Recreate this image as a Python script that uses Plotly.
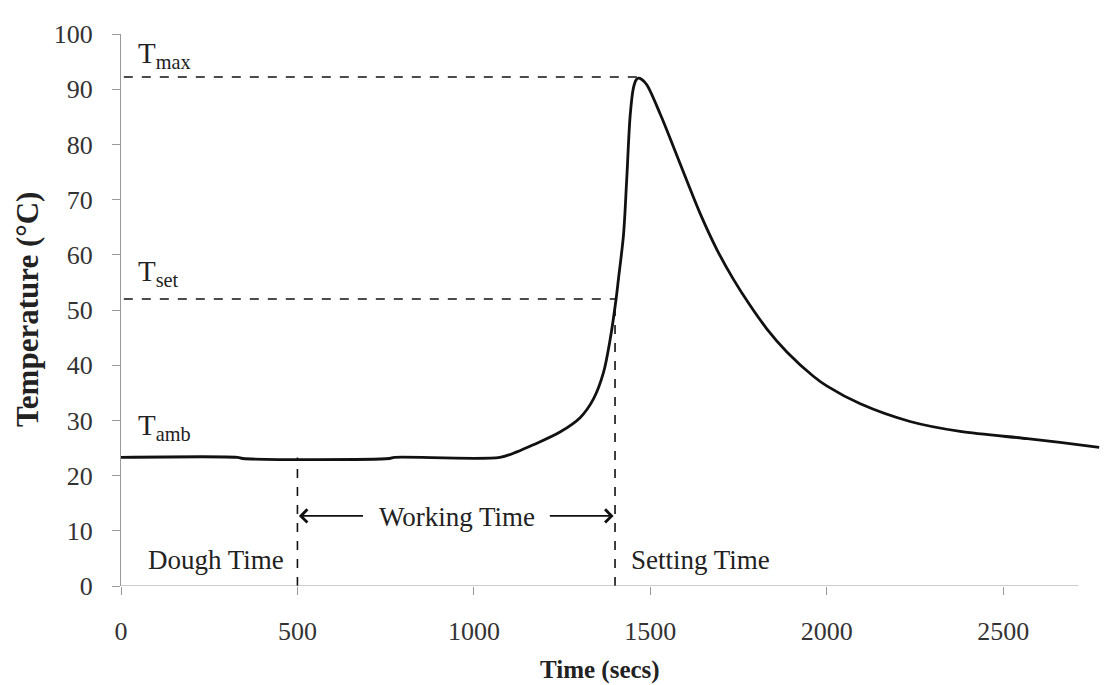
import plotly.graph_objects as go

time_s = [0, 330, 345, 760, 775, 1074, 1122, 1169, 1244, 1301, 1339, 1367, 1386, 1403, 1410, 1424,
          1433, 1443, 1452, 1460, 1466, 1475, 1490, 1528, 1566, 1603, 1641, 1689, 1736, 1783, 1830,
          1887, 1962, 2001, 2095, 2236, 2378, 2568, 2661, 2772]
temp_c = [23.3, 23.3, 23.1, 23.1, 23.3, 23.3, 24.3, 25.6, 27.9, 30.5, 33.9, 38.6, 44.6, 52.0, 55.8, 63.6,
          73.5, 85.3, 90.2, 91.7, 92.0, 91.8, 90.8, 85.5, 79.5, 73.5, 67.5, 60.9, 55.5, 50.8, 46.6,
          42.4, 38.0, 36.2, 33.0, 29.8, 28.0, 26.7, 26.0, 25.1]

t_max = 92.2
t_set = 52.0
t_amb = 23.3
dough_time = 500
setting_time = 1400
peak_time = 1466
x_axis_end = 2713

serif = "Liberation Serif, Times New Roman, serif"

fig = go.Figure()
fig.add_trace(go.Scatter(x=time_s, y=temp_c, mode="lines",
                         line=dict(color="#111", width=2.8, shape="spline", smoothing=0.9),
                         showlegend=False, hoverinfo="skip"))

dash = dict(color="#111", width=1.6, dash="dash")
fig.add_shape(type="line", x0=8, x1=peak_time, y0=t_max, y1=t_max, line=dash)
fig.add_shape(type="line", x0=8, x1=setting_time, y0=t_set, y1=t_set, line=dash)
fig.add_shape(type="line", x0=dough_time, x1=dough_time, y0=0, y1=t_amb, line=dash)
fig.add_shape(type="line", x0=setting_time, x1=setting_time, y0=0, y1=t_set, line=dash)
# x axis line (ends before the plot's right edge, as in the reference)
fig.add_shape(type="line", x0=0, x1=x_axis_end, y0=0, y1=0, line=dict(color="#9a9a9a", width=1.2))

lab = dict(family=serif, size=29, color="#222")
fig.add_annotation(x=42, y=96.2, text="T<sub>max</sub>", showarrow=False, xanchor="left", yanchor="middle", font=lab)
fig.add_annotation(x=42, y=56.7, text="T<sub>set</sub>", showarrow=False, xanchor="left", yanchor="middle", font=lab)
fig.add_annotation(x=42, y=28.8, text="T<sub>amb</sub>", showarrow=False, xanchor="left", yanchor="middle", font=lab)

txt = dict(family=serif, size=27, color="#222")
fig.add_annotation(x=468, y=4.7, text="Dough Time", showarrow=False, xanchor="right", yanchor="middle", font=txt)
fig.add_annotation(x=1440, y=4.7, text="Setting Time", showarrow=False, xanchor="left", yanchor="middle", font=txt)
fig.add_annotation(x=953, y=12.5, text="Working Time", showarrow=False, xanchor="center", yanchor="middle", font=txt)

arr = dict(showarrow=True, arrowhead=4, arrowsize=1.4, arrowwidth=1.8, arrowcolor="#111",
           axref="x", ayref="y", text="")
fig.add_annotation(x=dough_time + 4, y=12.7, ax=690, ay=12.7, **arr)
fig.add_annotation(x=setting_time - 4, y=12.7, ax=1211, ay=12.7, **arr)

# axis titles
fig.add_annotation(x=1358, y=0, xref="x", yref="paper", yshift=-84, text="<b>Time (secs)</b>",
                   showarrow=False, xanchor="center", yanchor="middle",
                   font=dict(family=serif, size=25, color="#222"))
fig.add_annotation(x=0, y=0.5, xref="paper", yref="paper", xshift=-94, textangle=-90,
                   text="<b>Temperature (°C)</b>", showarrow=False, xanchor="center", yanchor="middle",
                   font=dict(family=serif, size=31, color="#222"))

tickfont = dict(family=serif, size=26, color="#333")
fig.update_xaxes(range=[0, 2780], tickvals=[0, 500, 1000, 1500, 2000, 2500], showline=False,
                 ticks="outside", ticklen=8, tickcolor="#9a9a9a", tickwidth=1.2, showgrid=False, zeroline=False,
                 tickfont=tickfont, ticklabelstandoff=14)
fig.update_yaxes(range=[0, 100], tickvals=list(range(0, 101, 10)), showline=True, linecolor="#9a9a9a",
                 linewidth=1.2, ticks="outside", ticklen=8, tickcolor="#9a9a9a", tickwidth=1.2,
                 showgrid=False, zeroline=False, tickfont=tickfont, ticklabelstandoff=14)

fig.update_layout(width=1111, height=677, margin=dict(l=113, r=17, t=21, b=99),
                  plot_bgcolor="white", paper_bgcolor="white")

fig.write_html("out.html")
